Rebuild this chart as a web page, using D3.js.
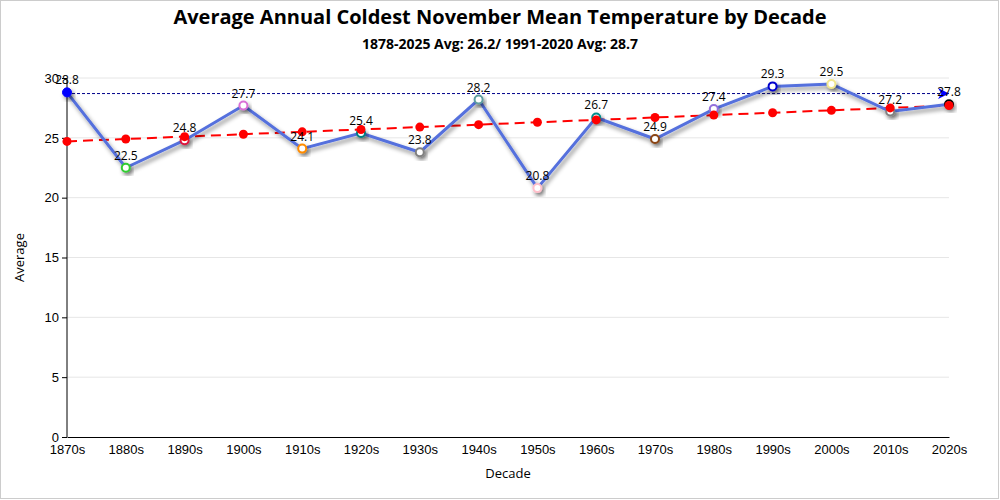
<!DOCTYPE html>
<html>
<head>
<meta charset="utf-8">
<script src="https://cdn.jsdelivr.net/npm/d3@7"></script>
<style>
  body { margin: 0; background: #fff; }
  svg { font-family: "Open Sans", "Noto Sans", sans-serif; }
</style>
</head>
<body>
<div id="chart"></div>
<script>
const decades = ['1870s','1880s','1890s','1900s','1910s','1920s','1930s','1940s','1950s','1960s','1970s','1980s','1990s','2000s','2010s','2020s'];
const averages = [28.8, 22.5, 24.8, 27.7, 24.1, 25.4, 23.8, 28.2, 20.8, 26.7, 24.9, 27.4, 29.3, 29.5, 27.2, 27.8];
const trend = [24.7, 24.9, 25.1, 25.3, 25.5, 25.7, 25.9, 26.1, 26.3, 26.5, 26.7, 26.9, 27.1, 27.3, 27.5, 27.7];
const markerColors = ['blue','limegreen','crimson','orchid','darkorange','teal','gray','cadetblue','pink','darkcyan','saddlebrown','mediumpurple','mediumblue','khaki','gray','black'];
const normal = 28.7;
const yTicks = [0, 5, 10, 15, 20, 25, 30];

const w = 1000, h = 500;
const margin = { top: 78, right: 51, bottom: 63, left: 67 };

const svg = d3.select('#chart').append('svg')
  .attr('width', w).attr('height', h);

const defs = svg.append('defs');
const shadow = defs.append('filter').attr('id', 'shadow')
  .attr('x', '-50%').attr('y', '-50%').attr('width', '200%').attr('height', '200%');
shadow.append('feDropShadow').attr('dx', 2).attr('dy', 3).attr('stdDeviation', 2)
  .attr('flood-color', '#000').attr('flood-opacity', 0.45);
defs.append('marker').attr('id', 'arrow')
  .attr('viewBox', '0 0 10 10').attr('refX', 10).attr('refY', 5)
  .attr('markerWidth', 16).attr('markerHeight', 11).attr('markerUnits', 'userSpaceOnUse')
  .attr('orient', 'auto')
  .append('path').attr('d', 'M0,0 L10,5 L0,10 L3,5 Z').attr('fill', 'blue');

svg.append('rect').attr('x', 0.5).attr('y', 0.5).attr('width', w - 2).attr('height', h - 2)
  .attr('fill', 'none').attr('stroke', '#ccc');

const xScale = d3.scalePoint().domain(decades).range([margin.left, w - margin.right]);
const yScale = d3.scaleLinear().domain([0, 30]).range([h - margin.bottom, margin.top]);

// grid
svg.append('g').selectAll('line').data(yTicks.filter(d => d > 0)).enter().append('line')
  .attr('x1', margin.left).attr('x2', w - margin.right)
  .attr('y1', d => yScale(d)).attr('y2', d => yScale(d))
  .attr('stroke', '#e6e6e6');

const yAxis = svg.append('g').attr('transform', `translate(${margin.left},0)`)
  .call(d3.axisLeft(yScale).tickValues(yTicks).tickSize(5));
yAxis.selectAll('text').attr('font-size', 13).attr('fill', '#000');
yAxis.select('.domain').attr('d', `M0,${yScale(30)}V${yScale(0)}`);

const xAxis = svg.append('g').attr('transform', `translate(0,${h - margin.bottom})`)
  .call(d3.axisBottom(xScale).tickSize(0).tickPadding(8));
xAxis.selectAll('text').attr('font-size', 13).attr('fill', '#000');

// normal line
svg.append('line')
  .attr('x1', margin.left).attr('x2', w - margin.right)
  .attr('y1', yScale(normal)).attr('y2', yScale(normal))
  .attr('stroke', 'darkblue').attr('stroke-width', 1).attr('stroke-dasharray', '3,2')
  .attr('marker-end', 'url(#arrow)');

// trend
const trendLine = d3.line().x((d, i) => xScale(decades[i])).y(d => yScale(d));
svg.append('path').datum(trend).attr('d', trendLine)
  .attr('fill', 'none').attr('stroke', 'red').attr('stroke-width', 2).attr('stroke-dasharray', '10,6');

// main line
const line = d3.line().x((d, i) => xScale(decades[i])).y(d => yScale(d));
svg.append('path').datum(averages).attr('d', line)
  .attr('fill', 'none').attr('stroke', '#5470dd').attr('stroke-width', 3)
  .attr('filter', 'url(#shadow)');

svg.selectAll('.pt').data(averages).enter().append('circle')
  .attr('class', 'pt')
  .attr('cx', (d, i) => xScale(decades[i])).attr('cy', d => yScale(d))
  .attr('r', (d, i) => i === 0 ? 4.5 : 4)
  .attr('fill', (d, i) => i === 0 ? markerColors[i] : '#fff')
  .attr('stroke', (d, i) => markerColors[i]).attr('stroke-width', (d, i) => i === 0 ? 1 : 2)
  .attr('filter', 'url(#shadow)');

svg.selectAll('.tr').data(trend).enter().append('circle')
  .attr('class', 'tr')
  .attr('cx', (d, i) => xScale(decades[i])).attr('cy', d => yScale(d))
  .attr('r', 4.5).attr('fill', 'red');

svg.selectAll('.lbl').data(averages).enter().append('text')
  .attr('class', 'lbl')
  .attr('x', (d, i) => xScale(decades[i])).attr('y', d => yScale(d) - 8)
  .attr('text-anchor', 'middle').attr('font-size', 12).attr('fill', '#000')
  .text(d => d.toFixed(1));

svg.append('text').attr('x', w / 2).attr('y', 24).attr('text-anchor', 'middle')
  .attr('font-size', 20).attr('font-weight', 'bold')
  .text('Average Annual Coldest November Mean Temperature by Decade');
svg.append('text').attr('x', w / 2).attr('y', 49).attr('text-anchor', 'middle')
  .attr('font-size', 14).attr('font-weight', 'bold')
  .text('1878-2025 Avg: 26.2/ 1991-2020 Avg: 28.7');

svg.append('text').attr('x', (margin.left + w - margin.right) / 2).attr('y', 478)
  .attr('text-anchor', 'middle').attr('font-size', 13).text('Decade');
svg.append('text').attr('transform', `translate(24,${(margin.top + h - margin.bottom) / 2}) rotate(-90)`)
  .attr('text-anchor', 'middle').attr('font-size', 13).text('Average');
</script>
</body>
</html>
